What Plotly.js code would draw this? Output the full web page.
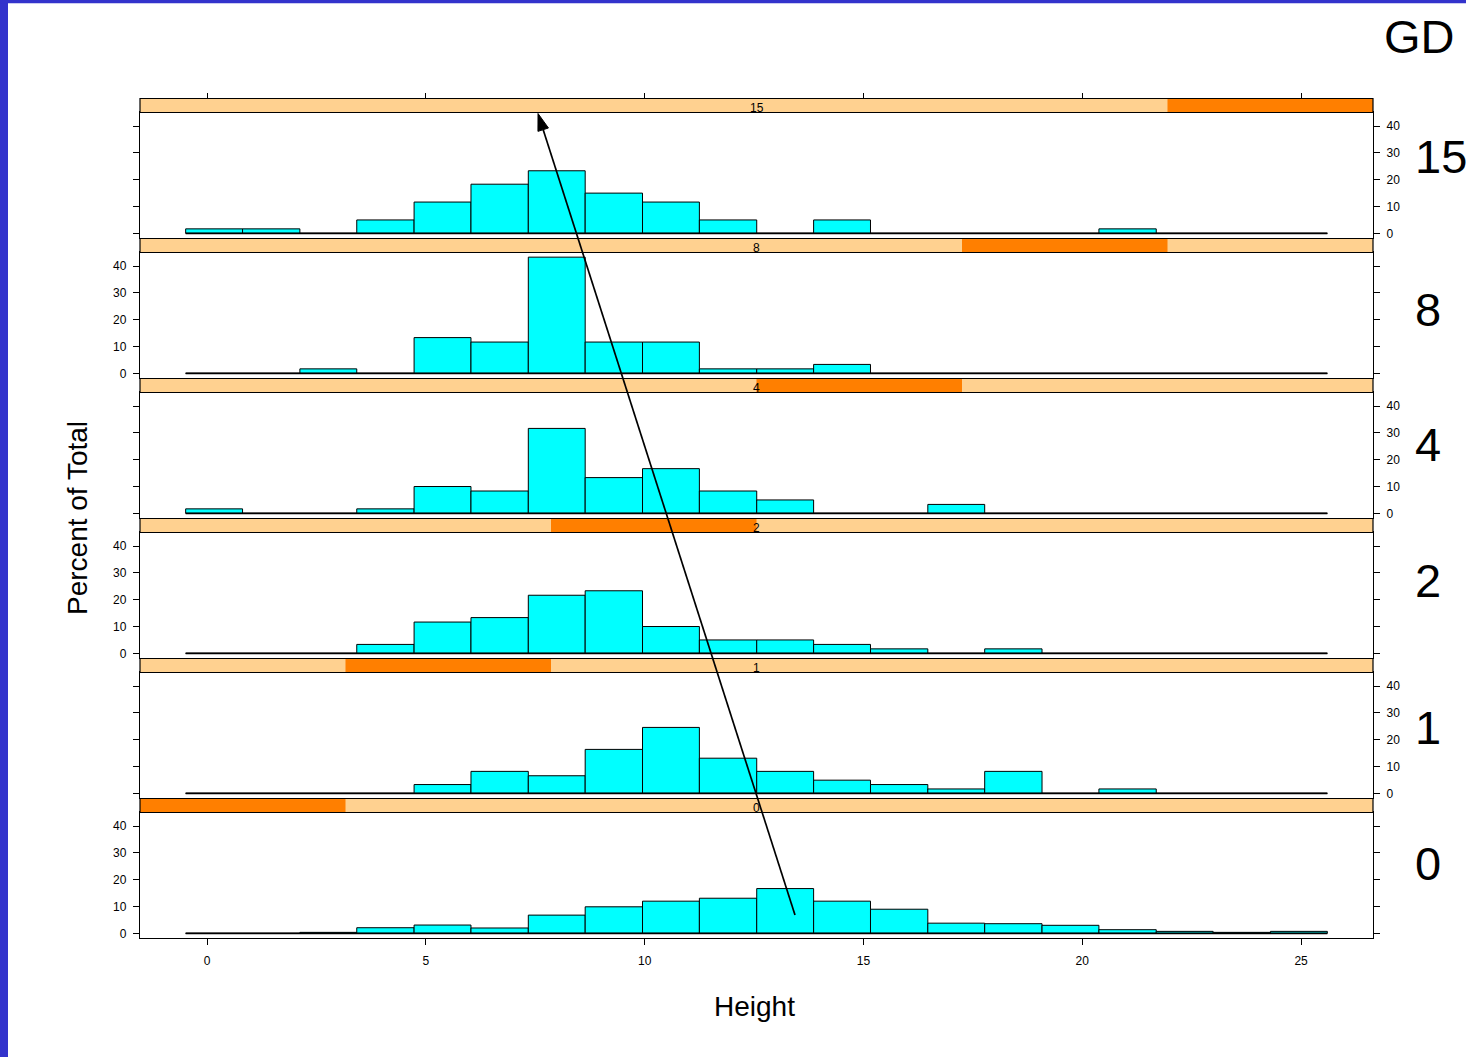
<!DOCTYPE html>
<html>
<head>
<meta charset="utf-8">
<script src="https://cdn.plot.ly/plotly-3.0.1.min.js"></script>
<style>
  html, body { margin: 0; padding: 0; background: #ffffff; }
  #chart { width: 1466px; height: 1057px; }
</style>
</head>
<body>
<div id="chart"></div>
<script>
// Height histogram bin edges (20 equal bins)
const binEdges = [-0.49, 0.81, 2.12, 3.42, 4.73, 6.03, 7.34, 8.64, 9.95, 11.25, 12.56,
                  13.86, 15.16, 16.47, 17.77, 19.08, 20.38, 21.69, 22.99, 24.30, 25.60];

// GD levels, in panel order from top to bottom
const gdLevels = ['15', '8', '4', '2', '1', '0'];

// Percent of total in each Height bin, one array per GD level
const pctGD15 = [1.67, 1.67, 0, 5.0, 11.67, 18.33, 23.33, 15.0, 11.67, 5.0, 0, 5.0, 0, 0, 0, 0, 1.67, 0, 0, 0];
const pctGD8  = [0, 0, 1.67, 0, 13.33, 11.67, 43.33, 11.67, 11.67, 1.67, 1.67, 3.33, 0, 0, 0, 0, 0, 0, 0, 0];
const pctGD4  = [1.67, 0, 0, 1.67, 10.0, 8.33, 31.67, 13.33, 16.67, 8.33, 5.0, 0, 0, 3.33, 0, 0, 0, 0, 0, 0];
const pctGD2  = [0, 0, 0, 3.33, 11.67, 13.33, 21.67, 23.33, 10.0, 5.0, 5.0, 3.33, 1.67, 0, 1.67, 0, 0, 0, 0, 0];
const pctGD1  = [0, 0, 0, 0, 3.28, 8.2, 6.56, 16.39, 24.59, 13.11, 8.2, 4.92, 3.28, 1.64, 8.2, 0, 1.64, 0, 0, 0];
const pctGD0  = [0, 0, 0.37, 2.1, 3.1, 2.0, 6.8, 9.9, 12.0, 13.1, 16.7, 12.0, 9.0, 3.8, 3.6, 3.0, 1.36, 0.74, 0.37, 0.74];

const panelValues = [pctGD15, pctGD8, pctGD4, pctGD2, pctGD1, pctGD0];

// Axis ticks and labels
const xTicks = [0, 5, 10, 15, 20, 25];
const yTicks = [0, 10, 20, 30, 40];
const xTitle = 'Height';
const yTitle = 'Percent of Total';
const conditionTitle = 'GD';

// ---- page geometry (pixels) ----
const W = 1466, H = 1057;
const plotLeft = 140, plotRight = 1373;
const firstStripTop = 98.5, stripH = 14, panelH = 125.5, panelStep = 140;
const px2x = px => px / W;
const py2y = py => 1 - py / H;

// right-hand level labels: vertical centres in pixels
const levelLabelY = [156, 309, 444, 580.5, 727, 863];

const FONT = 'Liberation Sans, Arial, Helvetica, sans-serif';

// ---- shared scales ----
const binCenters = binEdges.slice(0, -1).map((e, i) => (e + binEdges[i + 1]) / 2);
const binWidths = binEdges.slice(0, -1).map((e, i) => binEdges[i + 1] - e);
const xSpan = binEdges[binEdges.length - 1] - binEdges[0];
const xRange = [binEdges[0] - 0.04 * xSpan, binEdges[binEdges.length - 1] + 0.04 * xSpan];
const yMax = Math.max(...panelValues.map(v => Math.max(...v)));
const yRange = [-0.04 * yMax, yMax * 1.04];

const data = [];
const layout = {
  width: W, height: H,
  margin: { l: 0, r: 0, t: 0, b: 0 },
  paper_bgcolor: '#ffffff',
  plot_bgcolor: '#ffffff',
  showlegend: false,
  bargap: 0,
  font: { family: FONT, color: '#000000' },
  shapes: [],
  annotations: []
};

const nPanels = gdLevels.length;
for (let p = 0; p < nPanels; p++) {
  const sfx = p === 0 ? '' : String(p + 1);
  const xId = 'x' + sfx, yId = 'y' + sfx;
  const stripTop = firstStripTop + p * panelStep;
  const plotTop = stripTop + stripH;
  const plotBot = plotTop + panelH;
  const labelsRight = (p % 2 === 0);
  const isBottom = (p === nPanels - 1);

  // histogram bars
  data.push({
    type: 'bar', x: binCenters, y: panelValues[p], width: binWidths,
    xaxis: xId, yaxis: yId,
    marker: { color: '#00FFFF', line: { color: '#000000', width: 1 } },
    hoverinfo: 'skip'
  });
  // zero-height bins show as a line along the baseline
  data.push({
    type: 'scatter', mode: 'lines',
    x: [binEdges[0], binEdges[binEdges.length - 1]], y: [0, 0],
    xaxis: xId, yaxis: yId,
    line: { color: '#000000', width: 1.8 },
    hoverinfo: 'skip'
  });

  layout['xaxis' + sfx] = {
    domain: [px2x(plotLeft), px2x(plotRight)],
    range: xRange, anchor: yId,
    showline: true, mirror: true, linecolor: '#000000', linewidth: 1.2,
    showgrid: false, zeroline: false,
    ticks: isBottom ? 'outside' : '', ticklen: 6, tickwidth: 1, tickcolor: '#000000',
    tickvals: xTicks, showticklabels: isBottom, ticklabelstandoff: 5,
    tickfont: { family: FONT, size: 12, color: '#000000' },
    fixedrange: true
  };
  layout['yaxis' + sfx] = {
    domain: [py2y(plotBot), py2y(plotTop)],
    range: yRange, anchor: xId,
    side: labelsRight ? 'right' : 'left',
    showline: true, mirror: 'ticks', linecolor: '#000000', linewidth: 1.2,
    showgrid: false, zeroline: false,
    ticks: 'outside', ticklen: 6, tickwidth: 1, tickcolor: '#000000',
    tickvals: yTicks, ticklabelstandoff: 4,
    tickfont: { family: FONT, size: 12, color: '#000000' },
    fixedrange: true
  };

  // strip: light background, dark band for the level's interval, frame
  const k = nPanels - 1 - p;
  const bandW = (plotRight - plotLeft) / nPanels;
  layout.shapes.push({
    type: 'rect', xref: 'paper', yref: 'paper',
    x0: px2x(plotLeft), x1: px2x(plotRight), y0: py2y(plotTop), y1: py2y(stripTop),
    fillcolor: '#FFD190', line: { width: 0 }, layer: 'above'
  });
  layout.shapes.push({
    type: 'rect', xref: 'paper', yref: 'paper',
    x0: px2x(plotLeft + k * bandW), x1: px2x(plotLeft + (k + 1) * bandW),
    y0: py2y(plotTop), y1: py2y(stripTop),
    fillcolor: '#FF7F00', line: { width: 0 }, layer: 'above'
  });
  layout.shapes.push({
    type: 'rect', xref: 'paper', yref: 'paper',
    x0: px2x(plotLeft), x1: px2x(plotRight), y0: py2y(plotTop), y1: py2y(stripTop),
    fillcolor: 'rgba(0,0,0,0)', line: { color: '#000000', width: 1.2 }, layer: 'above'
  });
  layout.annotations.push({
    xref: 'paper', yref: 'paper',
    x: px2x((plotLeft + plotRight) / 2), y: py2y(stripTop + 9),
    xanchor: 'center', yanchor: 'middle', showarrow: false,
    text: gdLevels[p], font: { family: FONT, size: 12, color: '#000000' }
  });
  // large level label on the right
  layout.annotations.push({
    xref: 'paper', yref: 'paper',
    x: px2x(1412.5), y: py2y(levelLabelY[p]),
    xanchor: 'left', yanchor: 'middle', showarrow: false,
    text: gdLevels[p], font: { family: FONT, size: 47, color: '#000000' }
  });
}

// tick marks along the top of the first strip
layout.xaxis7 = {
  overlaying: 'x', anchor: 'free', position: py2y(firstStripTop), side: 'top',
  range: xRange, showline: false, showgrid: false, zeroline: false,
  ticks: 'outside', ticklen: 6, tickwidth: 1, tickcolor: '#000000',
  tickvals: xTicks, showticklabels: false, fixedrange: true
};
data.push({ type: 'scatter', mode: 'lines', x: [], y: [], xaxis: 'x7', yaxis: 'y', hoverinfo: 'skip' });

// titles
layout.annotations.push({
  xref: 'paper', yref: 'paper', x: px2x(754), y: py2y(1006),
  xanchor: 'center', yanchor: 'middle', showarrow: false,
  text: xTitle, font: { family: FONT, size: 28, color: '#000000' }
});
layout.annotations.push({
  xref: 'paper', yref: 'paper', x: px2x(77), y: py2y(518),
  xanchor: 'center', yanchor: 'middle', showarrow: false, textangle: -90,
  text: yTitle, font: { family: FONT, size: 28, color: '#000000' }
});
layout.annotations.push({
  xref: 'paper', yref: 'paper', x: px2x(1382), y: py2y(36),
  xanchor: 'left', yanchor: 'middle', showarrow: false,
  text: conditionTitle, font: { family: FONT, size: 47, color: '#000000' }
});

// arrow drawn across the panels (tail near GD 0, head at top of GD 15)
const tail = [795, 915], tip = [538, 113.5];
const dx = tip[0] - tail[0], dy = tip[1] - tail[1];
const len = Math.hypot(dx, dy);
const ux = dx / len, uy = dy / len;
const headLen = 17, headHalf = 5.5;
const bx = tip[0] - headLen * ux, by = tip[1] - headLen * uy;
const nx = -uy, ny = ux;
layout.shapes.push({
  type: 'line', xref: 'paper', yref: 'paper',
  x0: px2x(tail[0]), y0: py2y(tail[1]), x1: px2x(bx), y1: py2y(by),
  line: { color: '#000000', width: 1.7 }, layer: 'above'
});
layout.shapes.push({
  type: 'path', xref: 'paper', yref: 'paper',
  path: `M ${px2x(tip[0])} ${py2y(tip[1])} L ${px2x(bx + headHalf * nx)} ${py2y(by + headHalf * ny)} ` +
        `L ${px2x(bx - headHalf * nx)} ${py2y(by - headHalf * ny)} Z`,
  fillcolor: '#000000', line: { color: '#000000', width: 1 }, layer: 'above'
});

// page frame: blue bands on the left and top edges
layout.shapes.push({
  type: 'rect', xref: 'paper', yref: 'paper',
  x0: 0, x1: px2x(8), y0: 0, y1: 1,
  fillcolor: '#3333CC', line: { width: 0 }, layer: 'above'
});
layout.shapes.push({
  type: 'rect', xref: 'paper', yref: 'paper',
  x0: 0, x1: 1, y0: py2y(3.3), y1: 1,
  fillcolor: '#3333CC', line: { width: 0 }, layer: 'above'
});

Plotly.newPlot('chart', data, layout, { displayModeBar: false, staticPlot: true });
</script>
</body>
</html>
